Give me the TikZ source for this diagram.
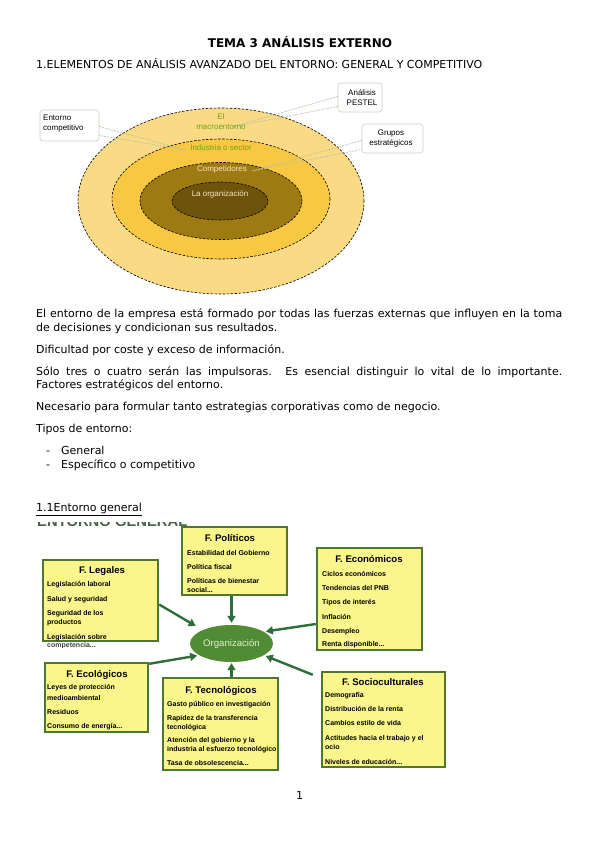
\documentclass[tikz,border=0pt]{standalone}
\usepackage{fontspec}
\setmainfont{DejaVu Sans}
\newfontfamily\arialf{Liberation Sans}
\usetikzlibrary{arrows.meta,shapes.geometric}
\definecolor{ring1}{RGB}{251,218,133}
\definecolor{ring2}{RGB}{249,200,66}
\definecolor{ring3}{RGB}{158,122,18}
\definecolor{ring4}{RGB}{110,83,10}
\definecolor{lblgreen}{RGB}{110,165,20}
\definecolor{lblcream}{RGB}{245,232,192}
\definecolor{callgray}{RGB}{200,208,195}
\definecolor{tailgray}{RGB}{175,195,165}
\definecolor{boxyellow}{RGB}{250,246,140}
\definecolor{boxgreen}{RGB}{78,120,48}
\definecolor{arrgreen}{RGB}{47,110,60}
\definecolor{orggreen}{RGB}{80,140,52}
\definecolor{orgtext}{RGB}{225,240,210}
\definecolor{hdgreen}{RGB}{70,100,70}
\begin{document}
\begin{tikzpicture}[x=1pt,y=-1pt,
  body/.style={anchor=base west,inner sep=0,font=\fontsize{11}{13}\selectfont},
  ring/.style={ellipse,draw=black,line width=0.6pt,dash pattern=on 2.5pt off 1.5pt,inner sep=0},
  ringlbl/.style={inner sep=0,align=center,font=\arialf\fontsize{8}{10}\selectfont},
  callbox/.style={draw=callgray,fill=white,rounded corners=3pt,line width=0.6pt,inner sep=0},
  tail/.style={draw=tailgray,line width=0.6pt,dash pattern=on 2pt off 1pt},
  pbox/.style={draw=boxgreen,fill=boxyellow,line width=2.4pt,inner sep=0},
  ptitle/.style={anchor=base,inner sep=0,font=\arialf\bfseries\fontsize{9.6}{11}\selectfont},
  pitem/.style={anchor=base west,inner sep=0,font=\arialf\bfseries\fontsize{7}{8}\selectfont},
  arr/.style={draw=arrgreen,line width=2.4pt,-{Triangle[length=7pt,width=8pt]}}]
\useasboundingbox (0,0) rectangle (599,848);
\fill[white] (0,0) rectangle (599,848);

% headings
\node[anchor=base,inner sep=0,font=\bfseries\fontsize{12}{14}\selectfont] (title) at (300,47.5) {TEMA 3 ANÁLISIS EXTERNO};
\node[body] (h1) at (36,69) {1.ELEMENTOS DE ANÁLISIS AVANZADO DEL ENTORNO: GENERAL Y COMPETITIVO};

% ring diagram
\node[ring,fill=ring1,minimum width=286pt,minimum height=186pt] (macro) at (221,201) {};
\node[ring,fill=ring2,minimum width=218pt,minimum height=120pt] (ind) at (221,199) {};
\node[ring,fill=ring3,minimum width=162pt,minimum height=77pt] (comp) at (221,201) {};
\node[ring,fill=ring4,minimum width=96pt,minimum height=38pt] (orgr) at (220,201) {};

\node[callbox,minimum width=59pt,minimum height=31pt] (ent) at (69.5,125.5) {};
\node[callbox,minimum width=44pt,minimum height=29pt] (pest) at (360,97.5) {};
\node[callbox,minimum width=61pt,minimum height=29pt] (grp) at (392.5,138.5) {};
\coordinate (entT) at (186,150);
\coordinate (pestT) at (232,127);
\coordinate (grpT) at (252,171);
\draw[tail] ([yshift=-1pt]ent.east) -- (entT) -- ([yshift=-10pt]ent.east);
\draw[tail] ([yshift=1pt]pest.west) -- (pestT) -- ([yshift=-9pt]pest.west);
\draw[tail] ([yshift=-2pt]grp.west) -- (grpT) -- ([yshift=-11pt]grp.west);

\node[ringlbl,anchor=north west,align=left] (entL) at (43,114.5) {Entorno\\competitivo};
\node[ringlbl] (pestL) at (362,97.5) {Análisis\\PESTEL};
\node[ringlbl] (grpL) at (391,138.5) {Grupos\\estratégicos};

\node[ringlbl,text=lblgreen] (macL) at (221,122) {El\\macroentorno};
\node[ringlbl,text=lblgreen] (indL) at (221,148) {Industria o sector};
\node[ringlbl,text=lblcream] (compL) at (222,169) {Competidores};
\node[ringlbl,text=lblcream] (orgL) at (220,194) {La organización};

% body text
\node[body] (p1a) at (36,317) {\makebox[526pt][s]{El entorno de la empresa está formado por todas las fuerzas externas que influyen en la toma}};
\node[body] (p1b) at (36,331) {de decisiones y condicionan sus resultados.};
\node[body] (p2) at (36,353) {Dificultad por coste y exceso de información.};
\node[body] (p3a) at (36,375) {\makebox[526pt][s]{Sólo tres o cuatro serán las impulsoras. Es esencial distinguir lo vital de lo importante.}};
\node[body] (p3b) at (36,388) {Factores estratégicos del entorno.};
\node[body] (p4) at (36,410) {Necesario para formular tanto estrategias corporativas como de negocio.};
\node[body] (p5) at (36,432) {Tipos de entorno:};
\node[body] (d1) at (46,454) {-};
\node[body] (l1) at (61,454) {General};
\node[body] (d2) at (46,468) {-};
\node[body] (l2) at (61,468) {Específico o competitivo};
\node[body] (h11) at (36,511.5) {\underline{1.1Entorno general}};

\begin{scope}
\clip (30,522) rectangle (200,525.5);
\node[anchor=base west,inner sep=0,font=\arialf\bfseries\fontsize{14.8}{15}\selectfont,text=hdgreen] (hidden) at (37,526) {ENTORNO GENERAL};
\end{scope}

% PESTEL diagram
\node[pbox,minimum width=105pt,minimum height=68pt] (pol) at (234.5,561) {};
\node[pbox,minimum width=115pt,minimum height=81pt] (leg) at (100.5,600.5) {};
\node[pbox,minimum width=105pt,minimum height=102pt] (eco) at (369.5,599) {};
\node[pbox,minimum width=103pt,minimum height=69pt] (ecol) at (96.5,697.5) {};
\node[pbox,minimum width=115pt,minimum height=92pt] (tec) at (220.5,724) {};
\node[pbox,minimum width=123pt,minimum height=95pt] (soc) at (383.5,719.5) {};
\node[ellipse,fill=orggreen,minimum width=83pt,minimum height=37pt,inner sep=0,text=orgtext,font=\arialf\fontsize{9.6}{10}\selectfont] (org) at (231.5,643.5) {Organización};

\draw[arr,shorten >=2pt] (org.north |- pol.south) -- (org.north);
\draw[arr,shorten >=1pt] (org.south |- tec.north) -- (org.south);
\draw[arr,shorten >=8pt] ([yshift=-4pt]leg.east) -- (org.155);
\draw[arr,shorten >=2pt] ([yshift=-25pt]eco.west) -- (org.20);
\draw[arr,shorten >=2pt] ([yshift=-2pt]ecol.north east) -- (org.200);
\draw[arr,shorten >=2pt] ([xshift=-8pt,yshift=-4pt]soc.north west) -- (org.-20);

% Politicos
\node[ptitle] (polT) at (230,541) {F. Políticos};
\node[pitem] (pol1) at (187,555.5) {Estabilidad del Gobierno};
\node[pitem] (pol2) at (187,569.5) {Política fiscal};
\node[pitem] (pol3) at (187,583.5) {Políticas de bienestar};
\node[pitem] (pol4) at (187,592) {social...};
% Legales
\node[ptitle] (legT) at (102,573) {F. Legales};
\node[pitem] (leg1) at (47,586.5) {Legislación laboral};
\node[pitem] (leg2) at (47,601.5) {Salud y seguridad};
\node[pitem] (leg3) at (47,615.5) {Seguridad de los};
\node[pitem] (leg4) at (47,624.5) {productos};
\node[pitem] (leg5) at (47,639) {Legislación sobre};
\begin{scope}
\clip (40,642) rectangle (160,647.5);
\node[pitem,text=black!75] (leg6) at (47,647.5) {competencia...};
\end{scope}
% Economicos
\node[ptitle] (ecoT) at (369,562) {F. Económicos};
\node[pitem] (eco1) at (322,576.5) {Ciclos económicos};
\node[pitem] (eco2) at (322,590.5) {Tendencias del PNB};
\node[pitem] (eco3) at (322,604.5) {Tipos de interés};
\node[pitem] (eco4) at (322,619.5) {Inflación};
\node[pitem] (eco5) at (322,633.5) {Desempleo};
\node[pitem] (eco6) at (322,646.5) {Renta disponible...};
% Ecologicos
\node[ptitle] (ecolT) at (97,677) {F. Ecológicos};
\node[pitem] (ecol1) at (47,689.5) {Leyes de protección};
\node[pitem] (ecol2) at (47,700.5) {medioambiental};
\node[pitem] (ecol3) at (47,714.5) {Residuos};
\node[pitem] (ecol4) at (47,728.5) {Consumo de energía...};
% Tecnologicos
\node[ptitle] (tecT) at (221,693) {F. Tecnológicos};
\node[pitem] (tec1) at (167,706.5) {Gasto público en investigación};
\node[pitem] (tec2) at (167,720.5) {Rapidez de la transferencia};
\node[pitem] (tec3) at (167,729) {tecnológica};
\node[pitem] (tec4) at (167,742.5) {Atención del gobierno y la};
\node[pitem] (tec5) at (167,751.5) {industria al esfuerzo tecnológico};
\node[pitem] (tec6) at (167,765.5) {Tasa de obsolescencia...};
% Socioculturales
\node[ptitle] (socT) at (383,685) {F. Socioculturales};
\node[pitem] (soc1) at (325,697.5) {Demografía};
\node[pitem] (soc2) at (325,711.5) {Distribución de la renta};
\node[pitem] (soc3) at (325,725.5) {Cambios estilo de vida};
\node[pitem] (soc4) at (325,740.5) {Actitudes hacia el trabajo y el};
\node[pitem] (soc5) at (325,749.5) {ocio};
\node[pitem] (soc6) at (325,764.5) {Niveles de educación...};

\node[body] (pagenum) at (296,799) {1};
\end{tikzpicture}
\end{document}
